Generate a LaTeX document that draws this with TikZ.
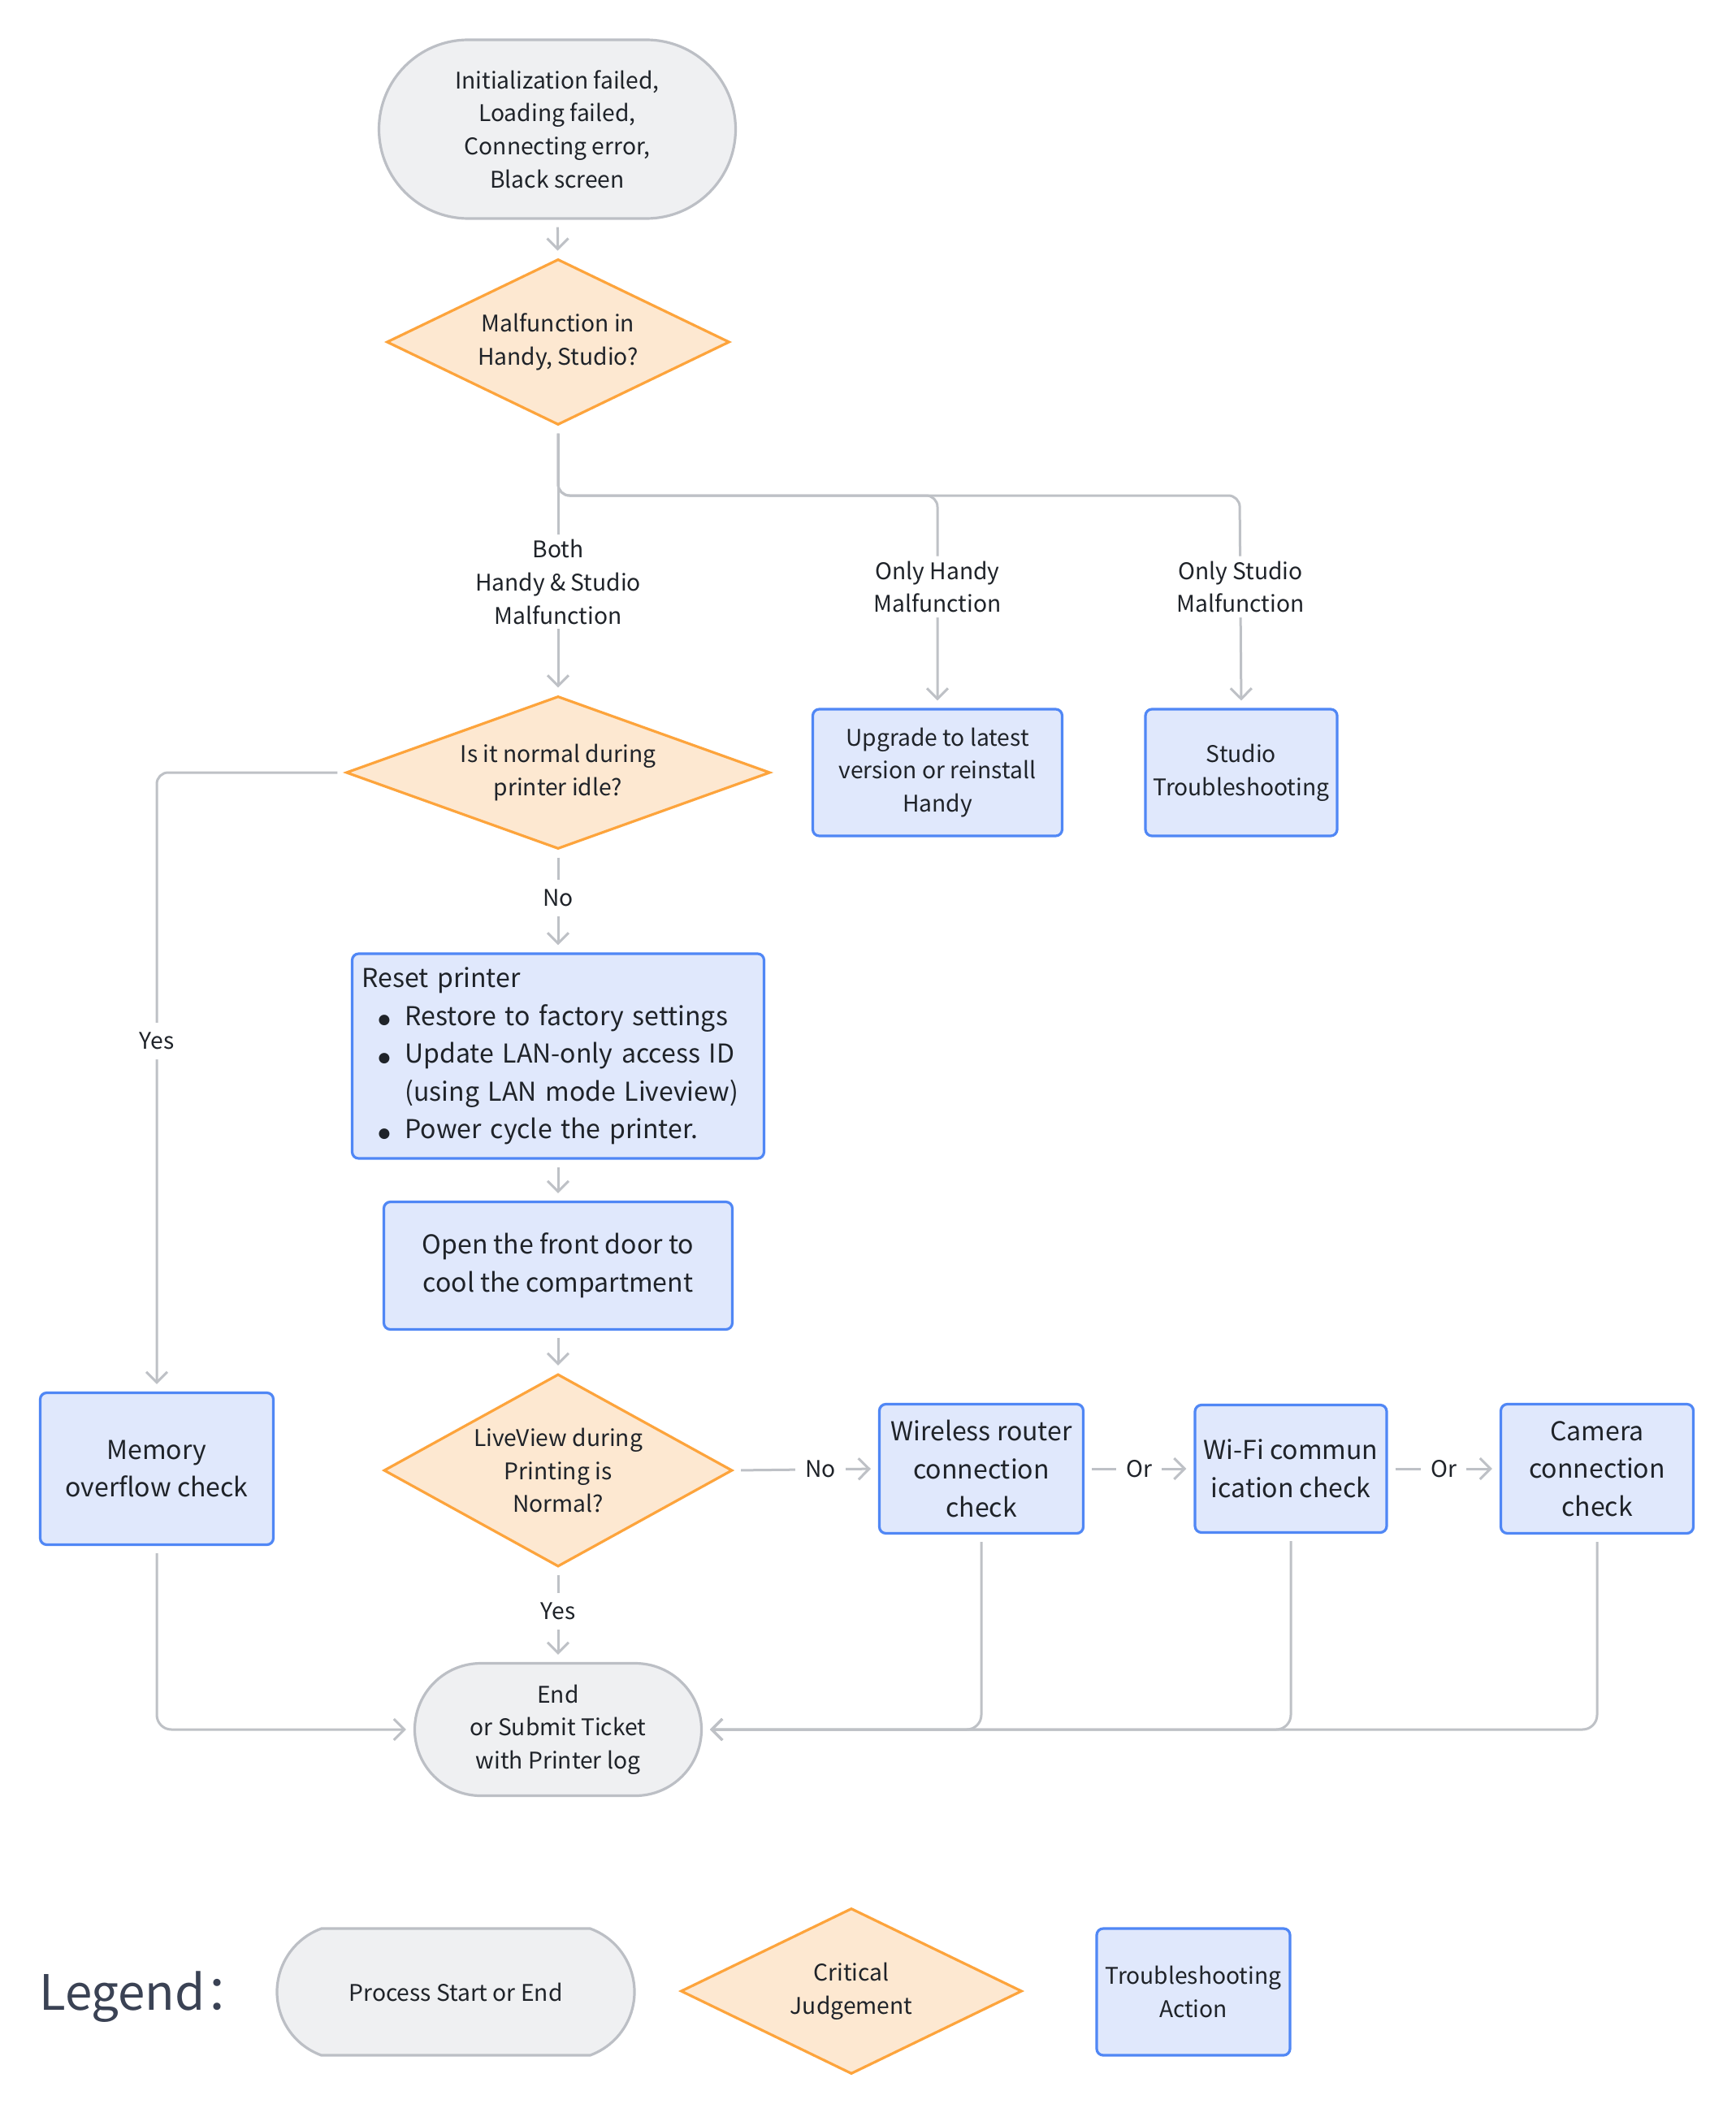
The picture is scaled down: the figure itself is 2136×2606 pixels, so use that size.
\documentclass[tikz,border=0pt]{standalone}
\usepackage{fontspec}
\setmainfont{Noto Sans CJK SC}
\newfontfamily\dvsfont{DejaVu Sans}
\usetikzlibrary{shapes.geometric,shapes.misc,arrows.meta}
\definecolor{txt}{HTML}{1F2329}
\definecolor{legtxt}{HTML}{3A4254}
\definecolor{gfill}{HTML}{EFF0F2}
\definecolor{gbd}{HTML}{BCBFC5}
\definecolor{ofill}{HTML}{FDE8D1}
\definecolor{obd}{HTML}{FDA43C}
\definecolor{bfill}{HTML}{E0E8FC}
\definecolor{bbd}{HTML}{5087F5}
\definecolor{lnc}{HTML}{BEC1C6}
\newcommand\fmed{\fontsize{14.1pt}{20.3pt}\selectfont}
\newcommand\fbig{\fontsize{16pt}{23.3pt}\selectfont}
\newcommand\bul{\makebox[26.5pt][l]{\hspace{10pt}\raisebox{0.6pt}{\dvsfont\fontsize{8.5pt}{8.5pt}\selectfont ●}}}
\tikzset{
 term/.style={rounded rectangle, draw=gbd, fill=gfill, line width=1.6pt, align=center, inner sep=0pt},
 dec/.style={diamond, draw=obd, fill=ofill, line width=1.6pt, align=center, inner sep=0pt},
 act/.style={rectangle, rounded corners=4pt, draw=bbd, fill=bfill, line width=1.6pt, align=center, inner sep=0pt},
 conn/.style={draw=lnc, line width=1.5pt, shorten <=4.5pt, shorten >=4.5pt},
 arr/.style={conn, -{Straight Barb[length=6.5pt,width=13pt]}},
 lbl/.style={fill=white, inner sep=6pt, align=center, font=\fmed},
}
\begin{document}
\begin{tikzpicture}[x=0.5pt,y=-0.5pt, every node/.style={text=txt, font=\fmed}]
\fill[white] (0,0) rectangle (2136,2606);
\useasboundingbox (0,0) rectangle (2136,2606);

% nodes
\node[term, minimum width=219.5pt, minimum height=110pt] (start) at (686,159)
 {Initialization failed,\\Loading failed,\\Connecting error,\\Black screen};
\node[dec, aspect=2.07, minimum width=211pt, minimum height=102pt] (d1) at (687,421)
 {Malfunction in\\Handy, Studio?};
\node[dec, aspect=2.78, minimum width=261pt, minimum height=94pt] (d2) at (687,951)
 {Is it normal during\\printer idle?};
\node[act, minimum width=153.5pt, minimum height=78pt] (upg) at (1154,951)
 {Upgrade to latest\\version or reinstall\\Handy};
\node[act, minimum width=118pt, minimum height=78pt] (stu) at (1528,951)
 {Studio\\Troubleshooting};
\node[act, align=left, text width=241.5pt, inner xsep=6pt, minimum height=126pt, font=\fbig] (reset) at (687,1300)
 {Reset printer\\
  \bul Restore to factory settings\\
  \bul Update LAN-only access ID\\
  \hspace*{26.5pt}(using LAN mode Liveview)\\
  \bul Power cycle the printer.};
\node[act, minimum width=214.5pt, minimum height=78.5pt, font=\fbig] (door) at (687,1558)
 {Open the front door to\\cool the compartment};
\node[dec, aspect=1.81, minimum width=214.5pt, minimum height=118.5pt] (d3) at (687,1810)
 {LiveView during\\Printing is\\Normal?};
\node[act, minimum width=143.5pt, minimum height=93.5pt, font=\fbig] (mem) at (193,1808)
 {Memory\\overflow check};
\node[act, minimum width=125.5pt, minimum height=79.5pt, font=\fbig] (wir) at (1208,1808)
 {Wireless router\\connection\\check};
\node[act, minimum width=118pt, minimum height=78.5pt, font=\fbig] (wifi) at (1589,1808)
 {Wi-Fi commun\\ication check};
\node[act, minimum width=118.5pt, minimum height=79.5pt, font=\fbig] (cam) at (1966,1808)
 {Camera\\connection\\check};
\node[term, minimum width=176.5pt, minimum height=81.5pt] (endn) at (687,2129)
 {End\\or Submit Ticket\\with Printer log};

% coordinates for branches
\coordinate (sp1) at (1154,610);
\coordinate (sp2) at (1526,610);

% connectors
\draw[arr] (start) -- (d1);
\draw[arr] (d1.south) -- node[lbl, pos=0.58, inner sep=3pt]{Both\\Handy \& Studio\\Malfunction} (d2.north);
\draw[arr, rounded corners=7pt] (d1.south) |- (sp1) -- node[lbl, pos=0.43, inner sep=3pt]{Only Handy\\Malfunction} (upg.north);
\draw[arr, rounded corners=7pt] (d1.south) |- (sp2) -- node[lbl, pos=0.43, inner sep=3pt]{Only Studio\\Malfunction} (stu.north);
\draw[arr] (d2.south) -- node[lbl, pos=0.47]{No} (reset.north);
\draw[arr, rounded corners=7pt] (d2.west) -| node[lbl, pos=0.717]{Yes} (mem.north);
\draw[arr] (reset) -- (door);
\draw[arr] (door) -- (d3);
\draw[arr] (d3.east) -- node[lbl, pos=0.6]{No} (wir.west);
\draw[arr] (wir) -- node[lbl]{Or} (wifi);
\draw[arr] (wifi) -- node[lbl]{Or} (cam);
\draw[arr] (d3.south) -- node[lbl, pos=0.46]{Yes} (endn.north);
\draw[arr, rounded corners=9pt] (mem.south) |- (endn.west);
\draw[arr, rounded corners=9pt] (wir.south) |- (endn.east);
\draw[arr, rounded corners=9pt] (wifi.south) |- (endn.east);
\draw[arr, rounded corners=9pt] (cam.south) |- (endn.east);

% legend
\node[anchor=west, text=legtxt, font=\fontsize{30pt}{36pt}\selectfont, inner sep=0pt] (leg) at (48,2458) {Legend：};
\node[term, rounded rectangle arc length=140, minimum width=220pt, minimum height=78pt] (lst) at (561,2452) {Process Start or End};
\node[dec, aspect=2.06, minimum width=210pt, minimum height=102pt] (ldi) at (1048,2451) {Critical\\Judgement};
\node[act, minimum width=119pt, minimum height=78pt] (lbox) at (1469,2452) {Troubleshooting\\Action};
\end{tikzpicture}
\end{document}
